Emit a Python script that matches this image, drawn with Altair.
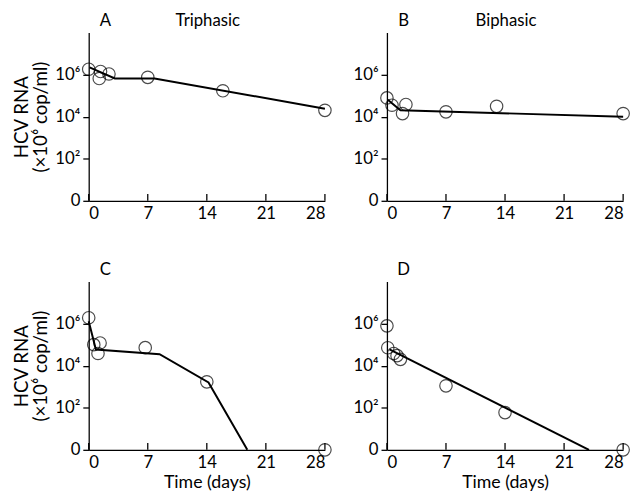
import altair as alt
import pandas as pd

# ---- data (days, copies) ----
A_t = [0, 1.4, 1.25, 2.4, 7, 15.9, 28]
A_v = [1.8e6, 1.4e6, 6.5e5, 1.07e6, 7.4e5, 1.7e5, 2.0e4]
A_fit_t = [0.1, 3.1, 7.8, 28]
A_fit_v = [2.2e6, 6.5e5, 6.5e5, 2.4e4]

B_t = [0, 0.6, 1.85, 2.25, 7, 13, 28]
B_v = [7.8e4, 3.5e4, 1.4e4, 3.8e4, 1.7e4, 3.1e4, 1.4e4]
B_fit_t = [0.1, 1.6, 28]
B_fit_v = [6.3e4, 2.0e4, 1.0e4]

C_t = [0, 0.6, 1.35, 1.1, 6.7, 14, 28]
C_v = [1.9e6, 1.0e5, 1.2e5, 3.8e4, 7.2e4, 1.7e3, 1]
C_fit_t = [0, 0.85, 8.4, 14.2, 18.8]
C_fit_v = [1.3e6, 5.9e4, 3.5e4, 1.6e3, 1]

D_t = [0, 0.1, 0.8, 1.2, 1.6, 7, 14, 28]
D_v = [7.8e5, 7.1e4, 3.8e4, 3.0e4, 2.0e4, 1.1e3, 59, 1]
D_fit_t = [0.3, 23.95]
D_fit_v = [6.0e4, 1]

letters = ["A", "B", "C", "D"]
phases = ["Triphasic", "Biphasic", "", ""]
x_ticks = [0, 7, 14, 21, 28]
y_ticks = [1, 100, 1e4, 1e6]

FONT = "Lato"
W, H = 240, 171

label_expr = ("datum.value == 1 ? '0' : datum.value == 100 ? '10\u00b2' : "
              "datum.value == 10000 ? '10\u2074' : '10\u2076'")


def panel(t, v, ft, fv, letter, phase, left, bottom):
    pts = pd.DataFrame({"t": t, "v": v})
    fit = pd.DataFrame({"t": ft, "v": fv})
    tk = pd.DataFrame({"t": x_ticks})
    xscale = alt.Scale(domain=[0, 28], nice=False)
    x = alt.X("t:Q", scale=xscale,
              axis=alt.Axis(values=x_ticks, title="Time (days)" if bottom else None,
                            grid=False, ticks=False, labelPadding=5,
                            titlePadding=3, titleFontSize=18))
    y = alt.Y("v:Q",
              scale=alt.Scale(type="log", domain=[1, 1e8], nice=False),
              axis=alt.Axis(values=y_ticks, labelExpr=label_expr,
                            title=["HCV RNA", "(\u00d710\u2076 cop/ml)"] if left else None,
                            grid=False, tickSize=6, labelPadding=3,
                            titlePadding=4, titleFontSize=19, titleLineHeight=20))
    line = alt.Chart(fit).mark_line(color="black", strokeWidth=2).encode(x=x, y=y)
    dots = alt.Chart(pts).mark_point(shape="circle", size=160, color="black",
                                     strokeWidth=1.2, filled=False).encode(x=x, y=y)
    # inward x ticks
    xt = alt.Chart(tk).mark_rule(color="black", strokeWidth=1.3).encode(
        x=alt.X("t:Q", scale=xscale), y=alt.value(H), y2=alt.value(H - 7))
    lab = pd.DataFrame({"s": [letter]})
    letter_txt = alt.Chart(lab).mark_text(font=FONT, fontSize=17, align="center",
                                          baseline="alphabetic").encode(
        text="s:N", x=alt.value(17), y=alt.value(-7))
    layers = [xt, line, dots, letter_txt]
    if phase:
        ph = pd.DataFrame({"s": [phase]})
        layers.append(alt.Chart(ph).mark_text(font=FONT, fontSize=17, align="center",
                                              baseline="alphabetic").encode(
            text="s:N", x=alt.value(121), y=alt.value(-7)))
    return alt.layer(*layers).properties(width=W, height=H)


pA = panel(A_t, A_v, A_fit_t, A_fit_v, letters[0], phases[0], True, False)
pB = panel(B_t, B_v, B_fit_t, B_fit_v, letters[1], phases[1], False, False)
pC = panel(C_t, C_v, C_fit_t, C_fit_v, letters[2], phases[2], True, True)
pD = panel(D_t, D_v, D_fit_t, D_fit_v, letters[3], phases[3], False, True)

chart = alt.concat(pA, pB, pC, pD, columns=2, spacing={"row": 82, "column": 63},
                   bounds="flush").properties(
    padding={"left": 4, "top": 0, "right": 0, "bottom": 0}).configure(
    background="white").configure_view(
    stroke=None
).configure_axis(
    domainColor="black", tickColor="black", domainWidth=1.3, tickWidth=1.3,
    labelFont=FONT, titleFont=FONT, labelFontSize=17,
    labelColor="black", titleColor="black", titleFontWeight="normal"
)

chart.save("out.html", embed_options={"renderer": "svg", "actions": False})
